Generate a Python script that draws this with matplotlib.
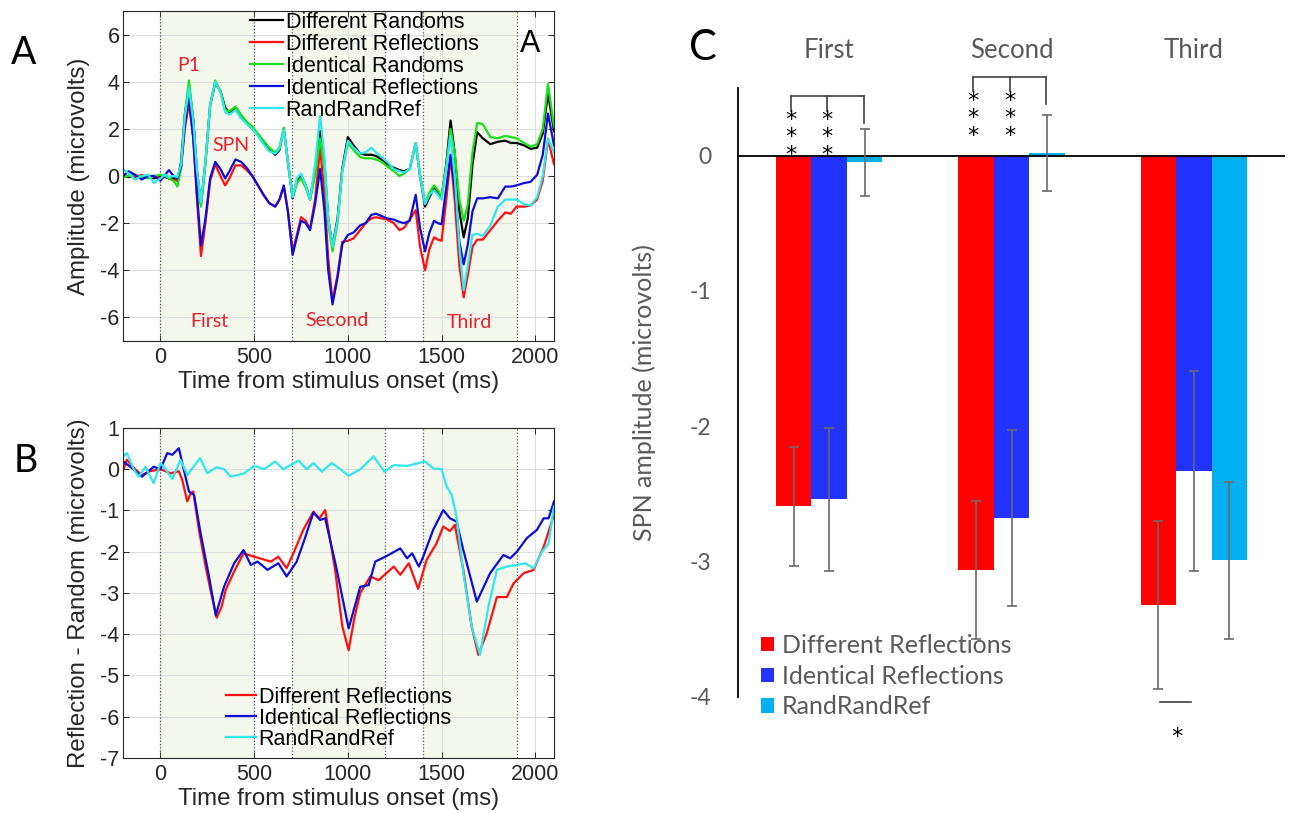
import numpy as np
import matplotlib
matplotlib.use("Agg")
import matplotlib.pyplot as plt
from matplotlib.transforms import blended_transform_factory

plt.rcParams["axes.unicode_minus"] = False

# ---------------- Panel A: ERP waves (microvolts) ----------------
t_a = [-200, -170, -135, -100, -65, -35, 0, 25, 45, 70,
       90, 110, 130, 152, 175, 195, 216, 240, 265, 292,
       320, 345, 368, 400, 430, 460, 490, 520, 550, 580,
       612, 635, 658, 680, 705, 728, 750, 775, 798, 825,
       852, 875, 895, 918, 945, 970, 1000, 1030, 1065, 1095,
       1125, 1150, 1180, 1210, 1245, 1275, 1300, 1330, 1362, 1385,
       1412, 1435, 1460, 1480, 1500, 1525, 1548, 1570, 1595, 1618,
       1640, 1665, 1690, 1720, 1760, 1800, 1840, 1870, 1900, 1940,
       1975, 2010, 2040, 2068, 2100]

diff_randoms = [0.0, -0.05, 0.0, -0.1, 0.0, -0.1, 0.0, -0.05, -0.1, -0.1,
                -0.2, 0.6, 2.6, 3.8, 2.4, 0.2, -1.2, 0.6, 3.0, 3.95,
                3.6, 2.9, 2.7, 2.85, 2.5, 2.25, 2.0, 1.75, 1.45, 1.15,
                0.9, 1.1, 2.0, 0.6, -0.95, -0.2, 0.05, -0.4, -1.0, 0.2,
                1.9, 0.5, -1.8, -3.0, -1.8, 0.3, 1.65, 1.3, 0.95, 0.9,
                0.9, 0.85, 0.7, 0.5, 0.35, 0.25, 0.2, 0.3, 1.4, 0.0,
                -1.3, -0.9, -0.5, -0.7, -0.9, 0.5, 2.35, 1.0, -1.5, -2.6,
                -1.8, 0.5, 1.85, 1.6, 1.35, 1.45, 1.5, 1.4, 1.4, 1.3,
                1.15, 1.2, 1.8, 3.5, 1.9]

diff_reflections = [0.0, 0.0, -0.05, 0.05, -0.05, 0.0, -0.1, 0.0, -0.1, -0.2,
                    -0.15, 0.4, 2.0, 3.1, 1.6, -1.0, -3.4, -2.0, -0.2, 0.5,
                    0.0, -0.4, -0.1, 0.45, 0.45, 0.25, 0.0, -0.4, -0.8, -1.15,
                    -1.3, -1.0, -0.45, -1.5, -3.2, -2.5, -1.75, -1.9, -2.25, -1.0,
                    1.2, -0.8, -3.5, -5.3, -4.2, -2.8, -2.75, -2.65, -2.3, -2.0,
                    -1.8, -1.75, -1.8, -1.85, -2.0, -2.3, -2.2, -1.85, -1.45, -3.0,
                    -4.0, -3.1, -2.6, -2.7, -2.75, -1.0, 0.8, -1.0, -3.8, -5.15,
                    -4.2, -3.0, -2.7, -2.7, -2.3, -1.9, -1.55, -1.6, -1.3, -1.3,
                    -1.25, -1.0, -0.2, 1.55, 0.5]

ident_randoms = [-0.05, 0.0, 0.05, -0.05, -0.1, 0.0, 0.05, 0.0, -0.1, -0.2,
                 -0.45, 0.3, 2.6, 4.05, 2.4, 0.0, -1.3, 0.5, 3.0, 4.05,
                 3.6, 2.8, 2.75, 2.95, 2.6, 2.3, 2.1, 1.8, 1.5, 1.2,
                 1.0, 1.2, 2.05, 0.6, -0.9, -0.3, -0.1, -0.5, -1.0, 0.0,
                 1.6, 0.3, -2.0, -3.2, -2.0, 0.2, 1.4, 1.1, 0.8, 0.75,
                 0.75, 0.7, 0.6, 0.4, 0.2, 0.0, 0.1, 0.3, 1.35, 0.1,
                 -1.15, -0.7, -0.4, -0.6, -0.85, 0.4, 2.0, 1.0, -1.0, -1.9,
                 -1.2, 1.0, 2.25, 2.2, 1.65, 1.6, 1.7, 1.65, 1.6, 1.4,
                 1.25, 1.35, 2.0, 3.9, 2.1]

ident_reflections = [0.0, 0.2, 0.05, -0.15, 0.0, 0.0, -0.2, 0.05, 0.25, 0.0,
                     -0.1, 0.4, 2.2, 3.35, 1.6, -0.8, -2.95, -1.8, -0.1, 0.6,
                     0.3, -0.1, 0.2, 0.7, 0.6, 0.35, 0.0, -0.4, -0.8, -1.15,
                     -1.3, -1.0, -0.4, -1.5, -3.35, -2.6, -1.9, -2.0, -2.3, -1.2,
                     0.3, -1.5, -4.0, -5.45, -4.3, -2.9, -2.5, -2.4, -2.1, -2.0,
                     -1.65, -1.6, -1.7, -1.8, -1.85, -1.95, -2.0, -1.9, -0.8, -2.2,
                     -3.2, -2.4, -1.9, -2.0, -2.05, -0.5, 0.9, -0.5, -2.8, -3.75,
                     -2.9, -1.5, -0.95, -0.95, -0.9, -0.95, -0.45, -0.45, -0.4, -0.3,
                     -0.25, 0.05, 0.9, 2.65, 1.3]

randrandref = [0.3, 0.1, -0.15, 0.0, 0.05, -0.3, -0.1, 0.05, -0.05, 0.0,
               -0.05, 0.5, 2.5, 3.75, 2.3, 0.2, -1.1, 0.6, 3.0, 4.0,
               3.55, 2.7, 2.6, 2.8, 2.45, 2.2, 2.0, 1.7, 1.35, 1.05,
               0.95, 1.15, 1.95, 0.6, -0.9, -0.1, 0.1, -0.4, -1.0, 0.5,
               2.55, 0.8, -1.8, -3.0, -1.9, 0.2, 1.5, 1.2, 0.95, 1.0,
               1.2, 1.0, 0.8, 0.6, 0.3, 0.2, 0.15, 0.3, 1.4, 0.0,
               -1.2, -0.8, -0.6, -0.8, -1.0, 0.3, 1.7, 0.0, -3.0, -4.85,
               -3.8, -2.5, -2.45, -2.55, -2.1, -1.3, -1.0, -1.0, -1.0, -1.2,
               -1.25, -0.9, 0.0, 1.6, 1.0]

# ---------------- Panel B: reflection - random differences ----------------
t_b_red = [-200, -180, -135, -100, -55, 0, 55, 98, 116, 143,
           160, 175, 205, 241, 270, 300, 325, 348, 393, 443,
           500, 589, 629, 673, 709, 762, 816, 848, 879, 932,
           970, 1004, 1035, 1066, 1120, 1164, 1245, 1280, 1325, 1375,
           1420, 1473, 1509, 1545, 1571, 1616, 1660, 1696, 1741, 1795,
           1848, 1884, 1938, 1991, 2045, 2100]
diff_b_red = [-0.05, 0.23, 0.0, -0.14, -0.05, 0.0, -0.1, -0.05, -0.26, -0.78,
              -0.6, -0.54, -1.47, -2.36, -3.0, -3.6, -3.35, -2.93, -2.48, -2.04,
              -2.12, -2.24, -2.12, -2.4, -2.04, -1.47, -1.03, -1.19, -0.99, -2.44,
              -3.8, -4.39, -3.6, -3.0, -2.6, -2.69, -2.36, -2.56, -2.28, -2.9,
              -2.2, -1.8, -1.39, -1.5, -1.35, -2.44, -3.8, -4.5, -3.98, -3.1,
              -3.1, -2.77, -2.52, -2.44, -1.88, -1.1]

t_b_blue = [-200, -161, -98, -36, 0, 36, 63, 98, 125, 152,
            179, 214, 259, 295, 339, 393, 443, 482, 518, 571,
            629, 673, 727, 771, 816, 852, 879, 941, 1004, 1066,
            1111, 1146, 1200, 1280, 1316, 1343, 1379, 1402, 1455, 1509,
            1545, 1580, 1616, 1688, 1759, 1830, 1866, 1902, 1955, 2009,
            2045, 2071, 2100]
ident_b_blue = [0.19, 0.06, -0.18, 0.06, 0.0, 0.39, 0.35, 0.51, -0.02, -0.54,
                -0.62, -1.55, -2.6, -3.54, -2.85, -2.28, -1.96, -2.32, -2.24, -2.44,
                -2.28, -2.6, -2.24, -1.67, -1.05, -1.23, -1.19, -2.44, -3.86, -2.85,
                -2.81, -2.24, -2.12, -1.92, -2.16, -2.04, -2.36, -2.12, -1.47, -0.99,
                -1.19, -1.27, -1.96, -3.21, -2.52, -2.08, -2.16, -2.0, -1.67, -1.47,
                -1.19, -1.19, -0.78]

t_b_cyan = [-200, -179, -143, -116, -80, -36, 0, 27, 63, 107,
            143, 211, 250, 300, 339, 375, 446, 500, 554, 611,
            655, 736, 780, 816, 861, 914, 960, 1004, 1066, 1137,
            1195, 1245, 1316, 1370, 1411, 1455, 1500, 1527, 1554, 1580,
            1616, 1661, 1705, 1750, 1795, 1848, 1902, 1946, 1991, 2036,
            2071, 2100]
rrr_b_cyan = [0.31, 0.39, 0.0, -0.18, 0.06, -0.34, 0.15, 0.0, -0.24, 0.23,
              -0.14, 0.27, -0.1, 0.05, 0.0, -0.18, -0.1, 0.08, 0.0, 0.19,
              0.0, 0.21, 0.0, 0.15, -0.06, 0.15, 0.0, -0.16, 0.0, 0.31,
              -0.06, 0.1, 0.08, 0.14, 0.19, 0.02, 0.0, -0.42, -0.62, -1.15,
              -2.52, -3.82, -4.5, -3.33, -2.44, -2.36, -2.32, -2.28, -2.4, -2.0,
              -1.8, -0.9]

# ---------------- Panel C: SPN amplitude per presentation ----------------
presentations = ["First", "Second", "Third"]
spn_diff_refl = [-2.59, -3.06, -3.32]
err_diff_refl = [0.44, 0.51, 0.62]
spn_ident_refl = [-2.54, -2.68, -2.33]
err_ident_refl = [0.53, 0.65, 0.74]
spn_rrr = [-0.05, 0.02, -2.99]
err_rrr = [0.25, 0.28, 0.58]

windows = [(0, 500), (700, 1200), (1400, 1900)]

MAT_FONT = "Liberation Sans"
CAL_FONT = "Lato"
ANNOT_RED = "#e8202a"
C_GRAY = "#595959"

fig = plt.figure(figsize=(12.92, 8.13), dpi=100)


def matlab_axes(ax, ylim, yticks):
    for lo, hi in windows:
        ax.axvspan(lo, hi, color="#f4f7ec", lw=0, zorder=0)
    for lo, hi in windows:
        for x in (lo, hi):
            ax.axvline(x, color="#555555", ls=":", lw=0.9, zorder=1)
    ax.set_xlim(-200, 2100)
    ax.set_ylim(*ylim)
    ax.set_xticks([0, 500, 1000, 1500, 2000])
    ax.set_yticks(yticks)
    ax.grid(True, color="#dedede", lw=0.8)
    ax.set_axisbelow(True)
    ax.tick_params(direction="in", length=4, top=True, right=True,
                   labelsize=15.5, colors="#262626", width=0.7)
    ax.tick_params(axis="x", pad=4)
    ax.tick_params(axis="y", pad=2.5)
    for lab in ax.get_xticklabels() + ax.get_yticklabels():
        lab.set_family(MAT_FONT)
    for s in ax.spines.values():
        s.set_color("#262626")
        s.set_linewidth(0.8)
    ax.set_xlabel("Time from stimulus onset (ms)", fontsize=17.3,
                  family=MAT_FONT, color="#262626")
    ax.xaxis.set_label_coords(0.5, -0.09)


# ---- Panel A
ax_a = fig.add_axes([0.0952, 0.5806, 0.3336, 0.4059])
matlab_axes(ax_a, (-7, 7), [-6, -4, -2, 0, 2, 4, 6])
lw = 1.6
ax_a.plot(t_a, diff_randoms, color="black", lw=lw, label="Different Randoms")
ax_a.plot(t_a, diff_reflections, color="#ff1010", lw=lw, label="Different Reflections")
ax_a.plot(t_a, ident_randoms, color="#19e019", lw=lw, label="Identical Randoms")
ax_a.plot(t_a, ident_reflections, color="#0d0dd8", lw=lw, label="Identical Reflections")
ax_a.plot(t_a, randrandref, color="#2ee8ee", lw=lw, label="RandRandRef")
ax_a.set_ylabel("Amplitude (microvolts)", fontsize=17.3, family=MAT_FONT, color="#262626")
ax_a.yaxis.set_label_coords(-0.077, 0.5)
ax_a.legend(loc="upper left", bbox_to_anchor=(0.1935, 0.9857), bbox_transform=fig.transFigure,
            frameon=False, prop={"family": MAT_FONT, "size": 15.5}, handlelength=1.55,
            handletextpad=0.1, labelspacing=0.05, borderpad=0, borderaxespad=0)
ax_a.text(1974, 5.58, "A", fontsize=22, family=MAT_FONT, ha="center", va="center")
for txt, tx, ty in [("P1", 150, 4.68), ("SPN", 375, 1.3), ("First", 260, -6.18),
                    ("Second", 943, -6.15), ("Third", 1647, -6.2)]:
    ax_a.text(tx, ty, txt, color=ANNOT_RED, fontsize=14, family=CAL_FONT,
              ha="center", va="center")

# ---- Panel B
ax_b = fig.add_axes([0.0952, 0.0677, 0.3336, 0.4059])
matlab_axes(ax_b, (-7, 1), [-7, -6, -5, -4, -3, -2, -1, 0, 1])
ax_b.plot(t_b_red, diff_b_red, color="#ff1010", lw=lw, label="Different Reflections")
ax_b.plot(t_b_blue, ident_b_blue, color="#0d0dd8", lw=lw, label="Identical Reflections")
ax_b.plot(t_b_cyan, rrr_b_cyan, color="#2ee8ee", lw=lw, label="RandRandRef")
ax_b.set_ylabel("Reflection - Random (microvolts)", fontsize=17.3, family=MAT_FONT,
                color="#262626")
ax_b.yaxis.set_label_coords(-0.077, 0.5)
ax_b.legend(loc="upper left", bbox_to_anchor=(0.1749, 0.1555), bbox_transform=fig.transFigure,
            frameon=False, prop={"family": MAT_FONT, "size": 15.5}, handlelength=1.4,
            handletextpad=0.12, labelspacing=0.0, borderpad=0, borderaxespad=0)

# ---- Panel C
ax_c = fig.add_axes([0.5712, 0.1427, 0.4234, 0.7491])
x = np.arange(len(presentations))
w = 0.195
ax_c.bar(x - w, spn_diff_refl, w, color="#ff0000", label="Different Reflections", zorder=2)
ax_c.bar(x, spn_ident_refl, w, color="#2233ff", label="Identical Reflections", zorder=2)
ax_c.bar(x + w, spn_rrr, w, color="#00b0f0", label="RandRandRef", zorder=2)
for off, vals, errs in [(-w, spn_diff_refl, err_diff_refl), (0, spn_ident_refl, err_ident_refl),
                        (w, spn_rrr, err_rrr)]:
    ax_c.errorbar(x + off, vals, yerr=errs, fmt="none", ecolor="#6a6a6a",
                  elinewidth=1.2, capsize=3.5, capthick=1.2, zorder=4)
ax_c.axhline(0, color="black", lw=1.3, zorder=3)
ax_c.set_xlim(-0.5, 2.5)
ax_c.set_ylim(-4, 0.5)
ax_c.set_xticks([])
ax_c.set_yticks([0, -1, -2, -3, -4])
ax_c.set_yticklabels(["0", "-1", "-2", "-3", "-4"])
ax_c.tick_params(axis="y", length=0, pad=19, labelsize=16.5, colors=C_GRAY)
for lab in ax_c.get_yticklabels():
    lab.set_family(CAL_FONT)
for side in ("top", "right", "bottom"):
    ax_c.spines[side].set_visible(False)
ax_c.spines["left"].set_color("black")
ax_c.spines["left"].set_linewidth(1.3)
ax_c.set_ylabel("SPN amplitude (microvolts)", fontsize=18, family=CAL_FONT, color=C_GRAY)
ax_c.yaxis.set_label_coords(-0.15, 0.5)

title_tr = blended_transform_factory(ax_c.transData, fig.transFigure)
for i, name in enumerate(presentations):
    ax_c.text(i, 1 - 51 / 813, name, transform=title_tr, fontsize=18.5, family=CAL_FONT,
              color=C_GRAY, ha="center", va="center")

# significance brackets
bx = [-0.21, -0.01, 0.19]
for g, y_top, y_short, y_long in [(0, 0.442, 0.332, 0.238), (1, 0.582, 0.474, 0.385)]:
    ax_c.plot([g + bx[0], g + bx[2]], [y_top, y_top], color="#404040", lw=1.2,
              clip_on=False, zorder=5)
    ax_c.plot([g + bx[0], g + bx[0]], [y_top, y_short], color="#404040", lw=1.2, clip_on=False)
    ax_c.plot([g + bx[1], g + bx[1]], [y_top, y_short], color="#404040", lw=1.2, clip_on=False)
    ax_c.plot([g + bx[2], g + bx[2]], [y_top, y_long], color="#404040", lw=1.2, clip_on=False)
# stacked stars: bottom star centre per group
star_bottom = {0: 0.059, 1: 0.199}
for g, yb in star_bottom.items():
    for sx in bx[:2]:
        ax_c.text(g + sx, yb - 0.096, "*\n*\n*", fontsize=16, family="DejaVu Sans",
                  color="black", ha="center", va="baseline", linespacing=0.84,
                  multialignment="center", clip_on=False)
ax_c.plot([1.814, 1.987], [-4.04, -4.04], color="#404040", lw=1.2, clip_on=False)
ax_c.text(1.907, -4.245 - 0.096, "*", fontsize=16, family="DejaVu Sans", color="black",
          ha="center", va="baseline", clip_on=False)

ax_c.legend(loc="upper left", bbox_to_anchor=(0.589, 0.2202), bbox_transform=fig.transFigure,
            frameon=False, prop={"family": CAL_FONT, "size": 18}, handlelength=0.52,
            handleheight=0.52, handletextpad=0.32, labelspacing=0.31, borderpad=0,
            borderaxespad=0, labelcolor=C_GRAY)

# panel letters
fig.text(24 / 1292, 1 - 52.5 / 813, "A", fontsize=27, family=CAL_FONT, ha="center", va="center")
fig.text(25.5 / 1292, 1 - 461 / 813, "B", fontsize=27, family=CAL_FONT, ha="center", va="center")
fig.text(703 / 1292, 1 - 47.5 / 813, "C", fontsize=30, family=CAL_FONT, ha="center", va="center")

fig.savefig("out.png", dpi=100)
